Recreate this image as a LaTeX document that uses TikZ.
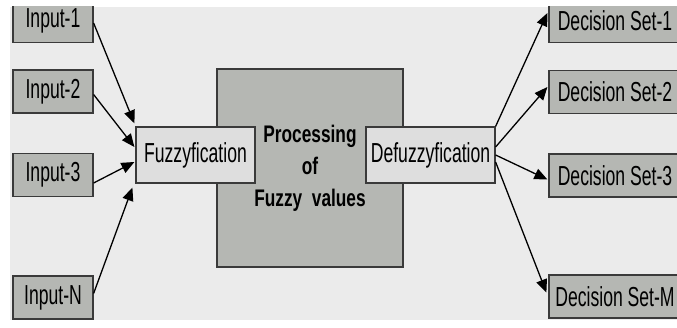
\documentclass[tikz,border=0pt]{standalone}
\usepackage{fontspec}
\setmainfont{Liberation Sans}
\usetikzlibrary{arrows.meta,calc}
\definecolor{bgcol}{HTML}{EBEBEB}
\definecolor{boxcol}{HTML}{B5B7B3}
\definecolor{lightcol}{HTML}{DEDEDE}
\definecolor{edgecol}{HTML}{3A3A3A}
% narrow (condensed) text
\newcommand{\narrowtext}[1]{\scalebox{0.64}[1]{#1}}
\begin{document}
\begin{tikzpicture}[x=1pt,y=-1pt,
  graybox/.style={draw=edgecol,line width=1.2pt,fill=boxcol,inner sep=0pt,
    font=\fontsize{27.5}{32}\selectfont},
  inbox/.style={graybox,minimum width=80pt,minimum height=43pt},
  outbox/.style={graybox,minimum width=132pt,minimum height=43pt},
  stagebox/.style={draw=edgecol,line width=1.2pt,fill=lightcol,inner sep=0pt,
    minimum height=56pt,font=\fontsize{27.5}{32}\selectfont},
  procbox/.style={draw=edgecol,line width=1.2pt,fill=boxcol,inner sep=0pt,
    minimum width=186pt,minimum height=198pt,align=center,
    font=\fontsize{24}{32}\selectfont\bfseries},
  flow/.style={draw=black,line width=1.3pt,-{Triangle[length=13pt,width=11pt]}}
]
\useasboundingbox (0,0) rectangle (677,328);
\fill[white] (0,0) rectangle (677,328);
\fill[bgcol] (10,7) rectangle (677,320);
\begin{scope}
\clip (10,7) rectangle (677,320);

% inputs
\node[inbox] (in1) at (53,21)   {\narrowtext{Input-1}};
\node[inbox] (in2) at (53,91.5) {\narrowtext{Input-2}};
\node[inbox] (in3) at (53,175)  {\narrowtext{Input-3}};
\node[inbox] (inN) at (53,297.5){\narrowtext{Input-N}};

% processing chain
\node[procbox] (proc) at (310,168)
  {\scalebox{0.72}[1]{Processing}\\\scalebox{0.72}[1]{of}\\\scalebox{0.72}[1]{Fuzzy\ \ values}};
\node[stagebox,minimum width=119pt] (fz) at (195.5,155) {\narrowtext{Fuzzyfication}};
\node[stagebox,minimum width=129pt] (df) at (430.5,155) {\narrowtext{Defuzzyfication}};

% decision sets
\node[outbox] (ds1) at (615,21)    {\narrowtext{Decision Set-1}};
\node[outbox] (ds2) at (615,92)    {\narrowtext{Decision Set-2}};
\node[outbox] (ds3) at (615,175.5) {\narrowtext{Decision Set-3}};
\node[outbox] (dsM) at (615,296.5) {\narrowtext{Decision Set-M}};

% inputs into fuzzyfication
\draw[flow] ($(in1.east)+(0,2)$)  -- ($(fz.north west)+(-1,-3)$);
\draw[flow] ($(in2.east)+(0,3)$)  -- ($(fz.west)+(-1,-8)$);
\draw[flow] ($(in3.east)+(0,8)$)  -- ($(fz.west)+(-1,7)$);
\draw[flow] ($(inN.east)+(0,-4)$) -- ($(fz.south west)+(-3,4)$);

% defuzzyfication into decision sets
\draw[flow] (df.north east)         -- ($(ds1.west)+(-1,-8)$);
\draw[flow] ($(df.east)+(0,-8)$)    -- ($(ds2.west)+(-1,-5)$);
\draw[flow] ($(df.east)+(0,0)$)     -- ($(ds3.west)+(-1,4)$);
\draw[flow] ($(df.east)+(0,7)$)     -- ($(dsM.west)+(-2,-4)$);
\end{scope}
\end{tikzpicture}
\end{document}
